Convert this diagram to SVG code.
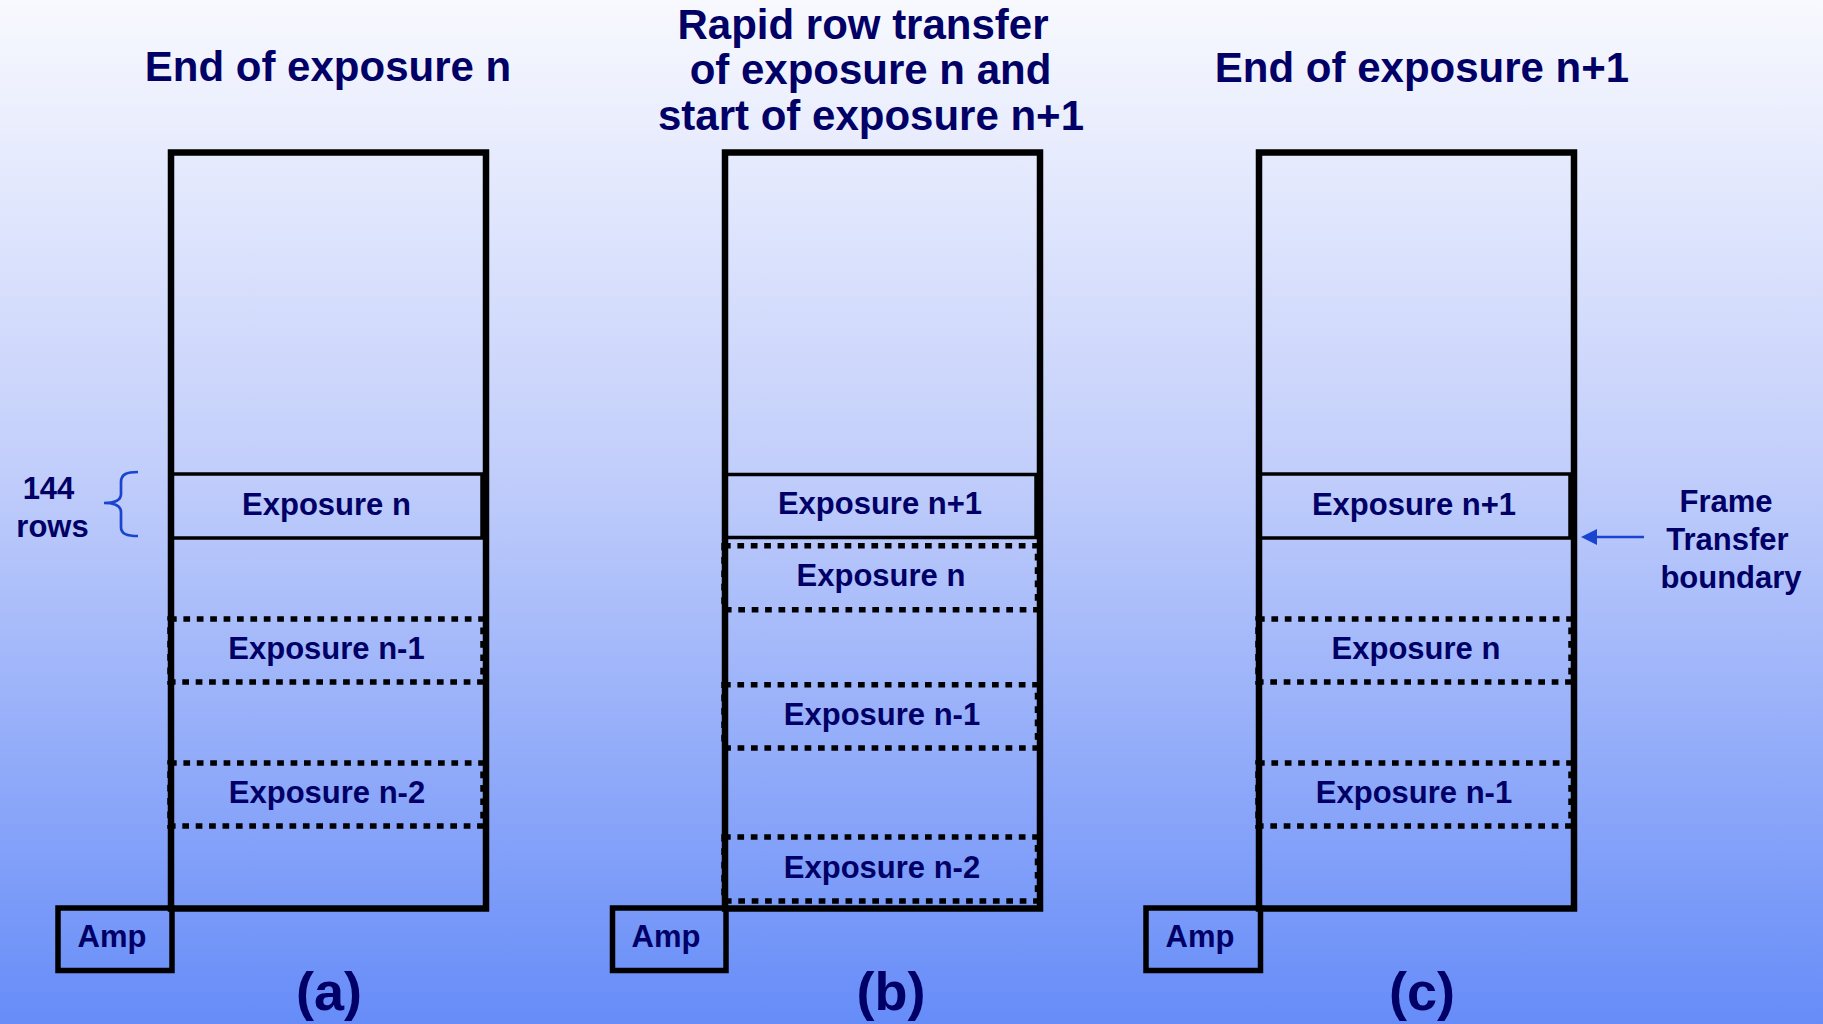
<svg xmlns="http://www.w3.org/2000/svg" width="1823" height="1024" viewBox="0 0 1823 1024">
  <defs>
    <linearGradient id="bg" x1="0" y1="0" x2="0" y2="1">
      <stop offset="0" stop-color="#f8f9fe"/>
      <stop offset="0.45" stop-color="#c3cffb"/>
      <stop offset="1" stop-color="#668cf8"/>
    </linearGradient>
    <marker id="arrow" viewBox="0 0 16 16" refX="1" refY="8" markerWidth="16" markerHeight="16" markerUnits="userSpaceOnUse" orient="auto-start-reverse">
      <path d="M0,0 L16,8 L0,16 Z" fill="#1a44cf"/>
    </marker>
    <style>
      text { font-family: "Liberation Sans", Arial, sans-serif; font-weight: bold; fill: #000066; text-anchor: middle; }
      .title { font-size: 42px; }
      .lbl { font-size: 31px; }
      .sub { font-size: 54px; }
      .outer { fill: none; stroke: #000; stroke-width: 6.5; }
      .solid { fill: none; stroke: #000; stroke-width: 3.5; }
      .dot { fill: none; stroke: #000; stroke-width: 5.5; stroke-dasharray: 6.7 6.7; }
      .amp { fill: none; stroke: #000; stroke-width: 5.5; }
      .blue { fill: none; stroke: #1a44cf; stroke-width: 2.7; }
    </style>
  </defs>
  <rect x="0" y="0" width="1823" height="1024" fill="url(#bg)"/>

  <!-- Panel (a) -->
  <g id="panel-a">
    <text class="title" x="328" y="81">End of exposure n</text>
    <g id="a-exp-n">
      <rect class="solid" x="172" y="474" width="310" height="64"/>
      <text class="lbl" x="326.5" y="515">Exposure n</text>
    </g>
    <g id="a-exp-n-1">
      <rect class="dot" x="170" y="619" width="313" height="63"/>
      <text class="lbl" x="326.5" y="659">Exposure n-1</text>
    </g>
    <g id="a-exp-n-2">
      <rect class="dot" x="170" y="763" width="313" height="63"/>
      <text class="lbl" x="327" y="803">Exposure n-2</text>
    </g>
    <rect id="a-ccd" class="outer" x="171" y="152.5" width="315" height="756"/>
    <g id="a-amp">
      <rect class="amp" x="58" y="908" width="114" height="62.5"/>
      <text class="lbl" x="112" y="947">Amp</text>
    </g>
    <g id="a-rows">
      <text class="lbl" x="48.5" y="499">144</text>
      <text class="lbl" x="52.5" y="537">rows</text>
    </g>
    <text class="sub" x="329" y="1010">(a)</text>
  </g>

  <!-- Panel (b) -->
  <g id="panel-b">
    <text class="title" x="863" y="39">Rapid row transfer</text>
    <text class="title" x="870.5" y="83.5">of exposure n and</text>
    <text class="title" x="871" y="130">start of exposure n+1</text>
    <g id="b-exp-n1">
      <rect class="solid" x="726" y="474.5" width="310" height="63"/>
      <text class="lbl" x="880" y="514">Exposure n+1</text>
    </g>
    <g id="b-exp-n">
      <rect class="dot" x="724" y="545.7" width="313.5" height="64"/>
      <text class="lbl" x="881" y="586">Exposure n</text>
    </g>
    <g id="b-exp-n-1">
      <rect class="dot" x="724" y="684.7" width="313.5" height="63.3"/>
      <text class="lbl" x="882" y="725">Exposure n-1</text>
    </g>
    <g id="b-exp-n-2">
      <rect class="dot" x="724" y="837" width="313.5" height="64"/>
      <text class="lbl" x="882" y="877.7">Exposure n-2</text>
    </g>
    <rect id="b-ccd" class="outer" x="725" y="152.5" width="315" height="756"/>
    <g id="b-amp">
      <rect class="amp" x="612.5" y="908" width="113.5" height="62.5"/>
      <text class="lbl" x="666" y="947">Amp</text>
    </g>
    <text class="sub" x="891" y="1010">(b)</text>
  </g>

  <!-- Panel (c) -->
  <g id="panel-c">
    <text class="title" x="1422" y="81.5">End of exposure n+1</text>
    <g id="c-exp-n1">
      <rect class="solid" x="1260" y="474" width="310" height="64"/>
      <text class="lbl" x="1414" y="515">Exposure n+1</text>
    </g>
    <g id="c-exp-n">
      <rect class="dot" x="1258" y="619" width="313" height="63"/>
      <text class="lbl" x="1416" y="659">Exposure n</text>
    </g>
    <g id="c-exp-n-1">
      <rect class="dot" x="1258" y="763" width="313" height="63"/>
      <text class="lbl" x="1414" y="803">Exposure n-1</text>
    </g>
    <rect id="c-ccd" class="outer" x="1259" y="152.5" width="315" height="756"/>
    <g id="c-amp">
      <rect class="amp" x="1146" y="908" width="114.5" height="62.5"/>
      <text class="lbl" x="1200" y="947">Amp</text>
    </g>
    <g id="c-boundary-label">
      <text class="lbl" x="1726" y="511.7">Frame</text>
      <text class="lbl" x="1727.5" y="550">Transfer</text>
      <text class="lbl" x="1731" y="588">boundary</text>
    </g>
    <text class="sub" x="1422" y="1010">(c)</text>
  </g>

  <!-- Connectors -->
  <g id="connectors">
    <path id="brace" class="blue" d="M138,472 C127,472 121,474 121,482 L121,494 C121,500 116,503 104,503 C116,503 121,506 121,512 L121,527 C121,534 127,536 138,536"/>
    <line id="boundary-arrow" class="blue" x1="1644" y1="537" x2="1596" y2="537" marker-end="url(#arrow)"/>
  </g>
</svg>
